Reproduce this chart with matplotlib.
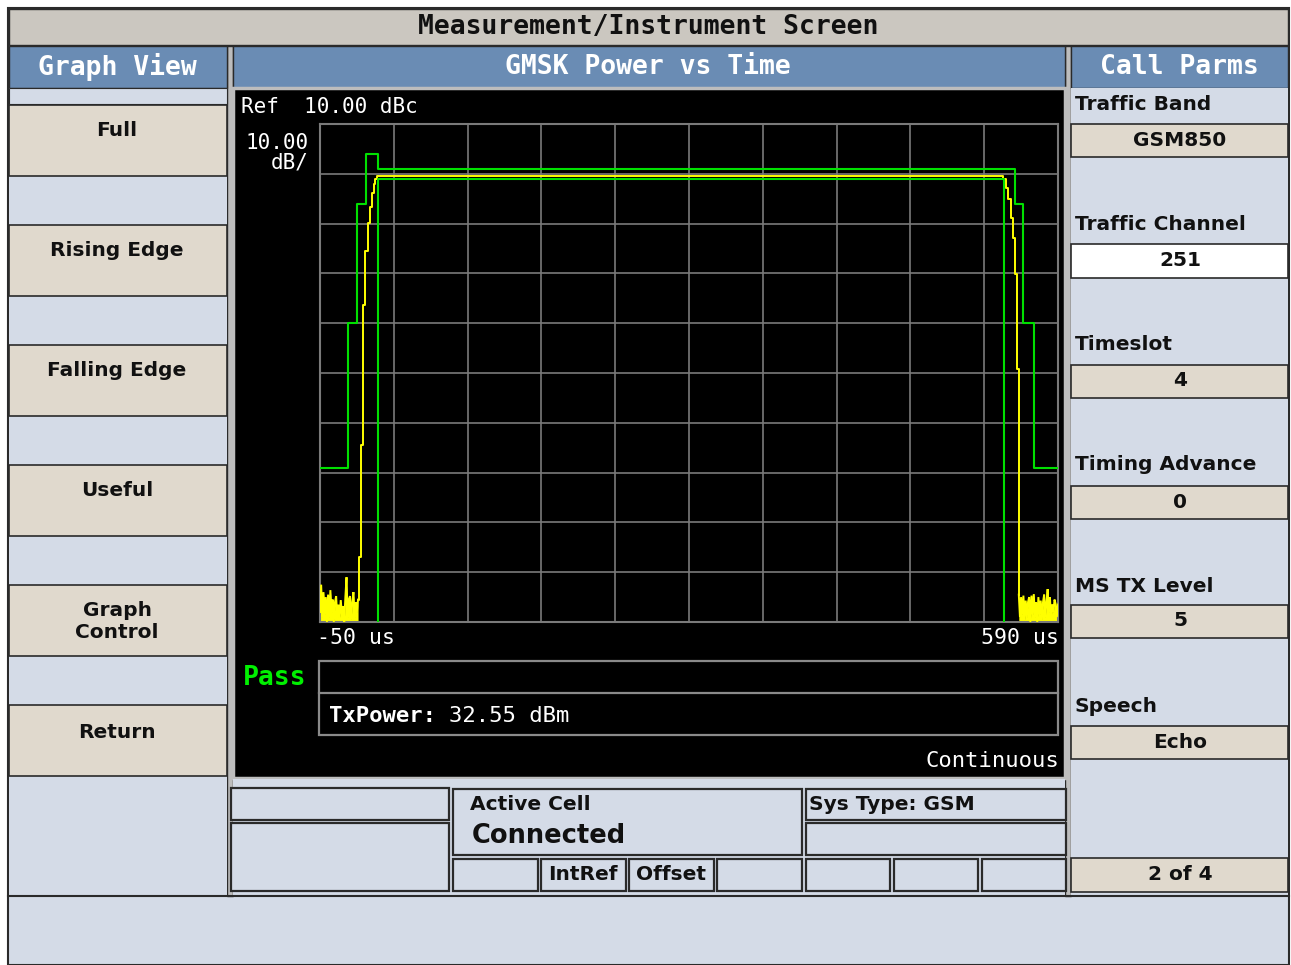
import matplotlib
matplotlib.use("Agg")
import matplotlib.pyplot as plt
from matplotlib.patches import Rectangle

# ---------------- data ----------------
# time axis (us) and level axis (dBc)
x_start, x_stop, x_step = -50, 590, 64
ref_level, db_per_div, n_div = 10, 10, 10

# upper mask (steps-post)
upper_mask_t = [-50, -26, -18, -10, 0, 552.8, 559.5, 569.5, 590]
upper_mask_db = [-59, -30, -6, 4, 1, -6, -30, -59, -59]

# lower mask (polyline)
lower_mask_t = [0, 0, 542.8, 542.8]
lower_mask_db = [-90, -1, -1, -90]

# measured trace: left noise floor (1 us samples)
noise_left_t = [-50, -49, -48, -47, -46, -45, -44, -43, -42, -41, -40, -39, -38, -37,
                -36, -35, -34, -33, -32, -31, -30, -29, -28, -27, -26, -25, -24, -23,
                -22, -21, -20, -19, -18, -17]
noise_left_db = [-88, -82.5, -89, -84, -88.5, -85, -90, -84.5, -89, -83.6, -88, -85.5, -90, -86,
                 -84.8, -89.5, -86.5, -89, -85.6, -88.5, -86.8, -90, -85, -81, -89, -85.5, -84.8, -89.5,
                 -86, -84, -89, -86, -88, -85.5]
# rising edge (steps)
rise_t = [-15.9, -14.2, -13.0, -10.7, -8.6, -6.6, -5.2, -3.4, -2.0, -0.3]
rise_db = [-76.9, -54.4, -26.3, -15.6, -9.9, -6.6, -3.9, -2.1, -1.1, -0.4]
# falling edge (steps)
fall_t = [542.6, 544.9, 546.9, 549.0, 550.7, 552.4, 554.2]
fall_db = [-1.0, -2.9, -5.0, -8.8, -12.8, -20.2, -39.2]
# right noise floor (1 us samples)
noise_right_t = [556, 557, 558, 559, 560, 561, 562, 563, 564, 565, 566, 567, 568, 569,
                 570, 571, 572, 573, 574, 575, 576, 577, 578, 579, 580, 581, 582, 583,
                 584, 585, 586, 587, 588, 589, 590]
noise_right_db = [-84.5, -89, -85, -88.5, -84.7, -89.5, -85.7, -89, -86, -85, -90, -84.7, -88.5, -84.4,
                  -89, -86, -90, -85, -88.5, -85.7, -89.5, -86, -84.5, -89, -86, -83.4, -88, -85,
                  -89.5, -86.5, -88, -85.5, -86.4, -89, -86.5]

# ---------------- figure ----------------
W, H = 1291, 965
fig = plt.figure(figsize=(W / 100, H / 100), dpi=100)
fig.patch.set_facecolor("white")
ui = fig.add_axes([0, 0, 1, 1])
ui.set_xlim(0, W)
ui.set_ylim(H, 0)
ui.axis("off")

TITLE_BG = "#CBC7C0"
BEIGE = "#E0D9CD"
LBLUE = "#D4DBE7"
HBLUE = "#6A8CB4"
DARK = "#2A2A2A"
SEP = "#BDBDBD"
MONO = "DejaVu Sans Mono"
SANS = "DejaVu Sans"


def rect(x0, y0, x1, y1, fc, ec="none", lw=0.0, z=1):
    ui.add_patch(Rectangle((x0, y0), x1 - x0, y1 - y0, facecolor=fc,
                           edgecolor=ec, linewidth=lw, zorder=z))


def txt(x, y, s, size=14.5, weight="bold", color="#111111", ha="left", family=SANS):
    ui.text(x, y, s, fontsize=size, fontweight=weight, color=color, ha=ha,
            va="center", family=family, zorder=10)


# outer frame
rect(8, 8, 1289, 965, LBLUE, DARK, 1.5)
# title bar
rect(9, 9, 1288, 45, TITLE_BG, DARK, 1.0)
txt(648, 27, "Measurement/Instrument Screen", 19, "bold", "#111111", "center", MONO)

# column separators
rect(227, 46, 233, 896, SEP, DARK, 1.0)
rect(1065, 46, 1071, 896, SEP, DARK, 1.0)

# ---- left panel ----
rect(9, 46, 227, 88, HBLUE, DARK, 1.0)
txt(117, 67, "Graph View", 19, "bold", "white", "center", MONO)
rect(9, 88, 227, 895, LBLUE)
buttons = [(105, 176, ["Full"], [131]),
           (225, 296, ["Rising Edge"], [251]),
           (345, 416, ["Falling Edge"], [371]),
           (465, 536, ["Useful"], [491]),
           (585, 656, ["Graph", "Control"], [611, 632]),
           (705, 776, ["Return"], [732])]
for y0, y1, labels, ys in buttons:
    rect(9, y0, 227, y1, BEIGE, DARK, 1.2)
    for lab, yy in zip(labels, ys):
        txt(117, yy, lab, 14.5, "bold", "#111111", "center")
rect(9, 88, 227, 104, LBLUE, DARK, 0.8)

# ---- middle panel ----
rect(233, 46, 1065, 88, HBLUE, DARK, 1.0)
txt(648, 67, "GMSK Power vs Time", 19, "bold", "white", "center", MONO)
rect(233, 88, 1065, 778, "black", SEP, 2.5)

txt(241, 107, "Ref  10.00 dBc", 15, "normal", "white", "left", MONO)
txt(309, 143, "10.00", 15, "normal", "white", "right", MONO)
txt(309, 163, "dB/", 15, "normal", "white", "right", MONO)
txt(317, 638, "-50 us", 15.5, "normal", "white", "left", MONO)
txt(1059, 638, "590 us", 15.5, "normal", "white", "right", MONO)
txt(243, 678, "Pass", 19, "bold", "#00F000", "left", MONO)
rect(319, 661, 1058, 735, "none", "#8A8A8A", 1.6, 3)
ui.plot([319, 1058], [693, 693], color="#8A8A8A", lw=1.6, zorder=3)
txt(329, 716, "TxPower:", 16, "bold", "white", "left", MONO)
txt(449, 716, "32.55 dBm", 16, "normal", "white", "left", MONO)
txt(1059, 761, "Continuous", 16, "normal", "white", "right", MONO)

# ---- right panel ----
rect(1071, 46, 1288, 88, HBLUE, DARK, 1.0)
txt(1179, 67, "Call Parms", 19, "bold", "white", "center", MONO)
rect(1071, 88, 1288, 895, LBLUE)
rparams = [("Traffic Band", 105, "GSM850", 124, 157, BEIGE, 141),
           ("Traffic Channel", 225, "251", 244, 278, "white", 261),
           ("Timeslot", 345, "4", 365, 398, BEIGE, 381),
           ("Timing Advance", 465, "0", 486, 519, BEIGE, 502),
           ("MS TX Level", 586, "5", 605, 638, BEIGE, 621),
           ("Speech", 706, "Echo", 726, 759, BEIGE, 742)]
for lab, ly, val, y0, y1, fc, vy in rparams:
    txt(1075, ly, lab, 14.5, "bold", "#111111", "left")
    rect(1071, y0, 1288, y1, fc, DARK, 1.2)
    txt(1180, vy, val, 14.5, "bold", "#111111", "center")
rect(1071, 858, 1288, 892, BEIGE, DARK, 1.2)
txt(1180, 875, "2 of 4", 14.5, "bold", "#111111", "center")

# ---- bottom status area ----
rect(233, 779, 1065, 895, LBLUE)
boxes = [(231, 788, 449, 820), (231, 823, 449, 891),
         (453, 789, 802, 855),
         (453, 859, 538, 891), (541, 859, 626, 891), (629, 859, 714, 891), (717, 859, 802, 891),
         (806, 789, 1066, 820), (806, 823, 1066, 855),
         (806, 859, 890, 891), (894, 859, 978, 891), (982, 859, 1066, 891)]
for b in boxes:
    rect(b[0], b[1], b[2], b[3], LBLUE, DARK, 1.6, 2)
txt(470, 805, "Active Cell", 14.5, "bold", "#111111", "left")
txt(472, 836, "Connected", 18.5, "bold", "#111111", "left")
txt(809, 804, "Sys Type: GSM", 14.5, "bold", "#111111", "left")
txt(583, 875, "IntRef", 14.5, "bold", "#111111", "center")
txt(671, 875, "Offset", 14.5, "bold", "#111111", "center")

# bottom strip
ui.plot([8, 1289], [895.5, 895.5], color=DARK, lw=1.5, zorder=3)

# ---------------- graph ----------------
px0, py0, px1, py1 = 320, 124, 1058, 622
ax = fig.add_axes([px0 / W, 1 - py1 / H, (px1 - px0) / W, (py1 - py0) / H])
ax.set_facecolor("black")
bottom = ref_level - db_per_div * n_div
ax.set_xlim(x_start, x_stop)
ax.set_ylim(bottom, ref_level)
ax.set_xticks([x_start + i * x_step for i in range(11)])
ax.set_yticks([bottom + i * db_per_div for i in range(n_div + 1)])
ax.tick_params(length=0, labelbottom=False, labelleft=False)
ax.grid(True, color="#7A7A7A", lw=1.2)
for s in ax.spines.values():
    s.set_color("#7A7A7A")
    s.set_linewidth(1.5)

YEL = "#FFFF00"
GRN = "#00E000"

# yellow trace: noise (spiky, filled from floor) + burst (steps)
ax.fill_between(noise_left_t, bottom, noise_left_db, color=YEL, lw=0, zorder=2)
ax.fill_between(noise_right_t, bottom, noise_right_db, color=YEL, lw=0, zorder=2)
ax.plot(noise_left_t, noise_left_db, color=YEL, lw=1.4, zorder=3, solid_joinstyle="miter")
ax.plot(noise_right_t, noise_right_db, color=YEL, lw=1.4, zorder=3, solid_joinstyle="miter")
burst_t = [noise_left_t[-1]] + rise_t + fall_t + [noise_right_t[0]]
burst_db = [noise_left_db[-1]] + rise_db + fall_db + [noise_right_db[0]]
ax.plot(burst_t, burst_db, drawstyle="steps-post", color=YEL, lw=1.4, zorder=3)

# masks
ax.plot(upper_mask_t, upper_mask_db, drawstyle="steps-post", color=GRN, lw=1.5, zorder=4)
ax.plot(lower_mask_t, lower_mask_db, color=GRN, lw=1.5, zorder=4)

fig.savefig("out.png", dpi=100, facecolor="white")
